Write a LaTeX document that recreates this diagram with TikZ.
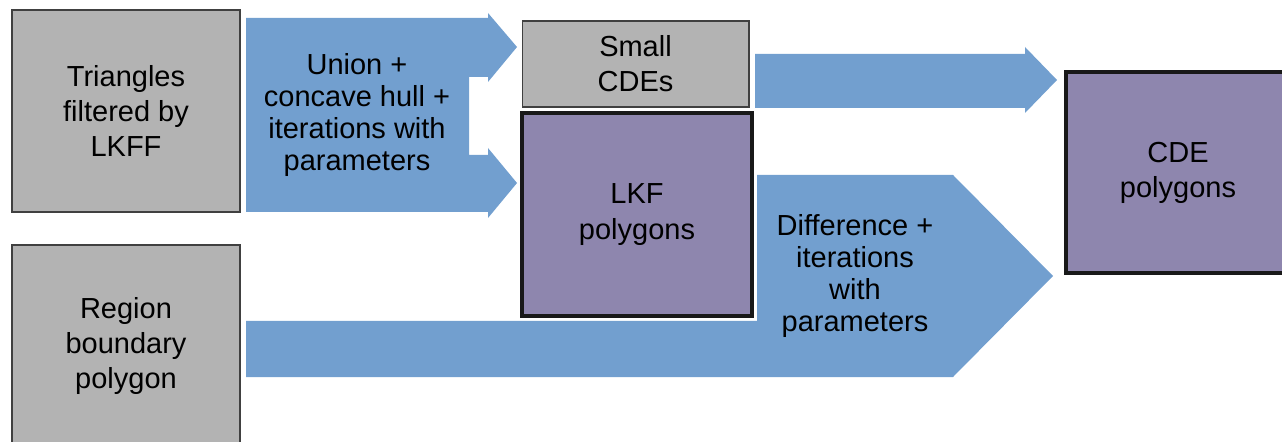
\documentclass[tikz,border=0pt]{standalone}
\usepackage{fontspec}
\setmainfont{Liberation Sans}
\usetikzlibrary{positioning}

\definecolor{boxgray}{HTML}{B3B3B3}
\definecolor{flowblue}{HTML}{729FCF}
\definecolor{polypurple}{HTML}{8E86AE}

\tikzset{
  databox/.style={draw=black!75, fill=boxgray, line width=0.6pt, inner sep=0pt,
    align=center, font=\fontsize{16.5}{20}\selectfont},
  polybox/.style={draw=black!90, fill=polypurple, line width=1.8pt, inner sep=0pt,
    align=center, font=\fontsize{16.5}{20}\selectfont},
  flow/.style={fill=flowblue},
  flowtext/.style={align=center, font=\fontsize{16.5}{18.2}\selectfont}
}

\begin{document}
\begin{tikzpicture}[x=0.02cm, y=-0.02cm]
  \useasboundingbox (0,0) rectangle (1282,442);

  % block arrows
  \fill[flow] (246,18) -- (488,18) -- (488,13) -- (517,47) -- (488,82) -- (488,77)
    -- (469,77) -- (469,155) -- (488,155) -- (488,148) -- (517,183) -- (488,218)
    -- (488,212) -- (246,212) -- cycle;
  \fill[flow] (755,54) -- (1025,54) -- (1025,47) -- (1057,80) -- (1025,113)
    -- (1025,108) -- (755,108) -- cycle;
  \fill[flow] (246,321) -- (757,321) -- (757,175) -- (953,175) -- (1053,276)
    -- (953,377) -- (246,377) -- cycle;
  \node[flowtext] (union) at (357,115) {Union +\\concave hull +\\iterations with\\parameters};
  \node[flowtext] (diff) at (855,276) {Difference +\\iterations\\with\\parameters};

  % boxes
  \node[databox, minimum width=4.56cm, minimum height=4.04cm] (tri) at (126,111)
    {Triangles\\filtered by\\LKFF};
  \node[databox, minimum width=4.56cm, minimum height=4.04cm] (region) at (126,346)
    {Region\\boundary\\polygon};
  \node[databox, minimum width=4.54cm, minimum height=1.72cm] (small) at (635.5,64)
    {Small\\CDEs};
  \node[polybox, minimum width=4.6cm, minimum height=4.06cm] (lkf) at (637,214.5)
    {LKF\\polygons};
  \node[polybox, minimum width=4.48cm, minimum height=4.02cm] (cde) at (1178,172.5)
    {CDE\\polygons};
\end{tikzpicture}
\end{document}
